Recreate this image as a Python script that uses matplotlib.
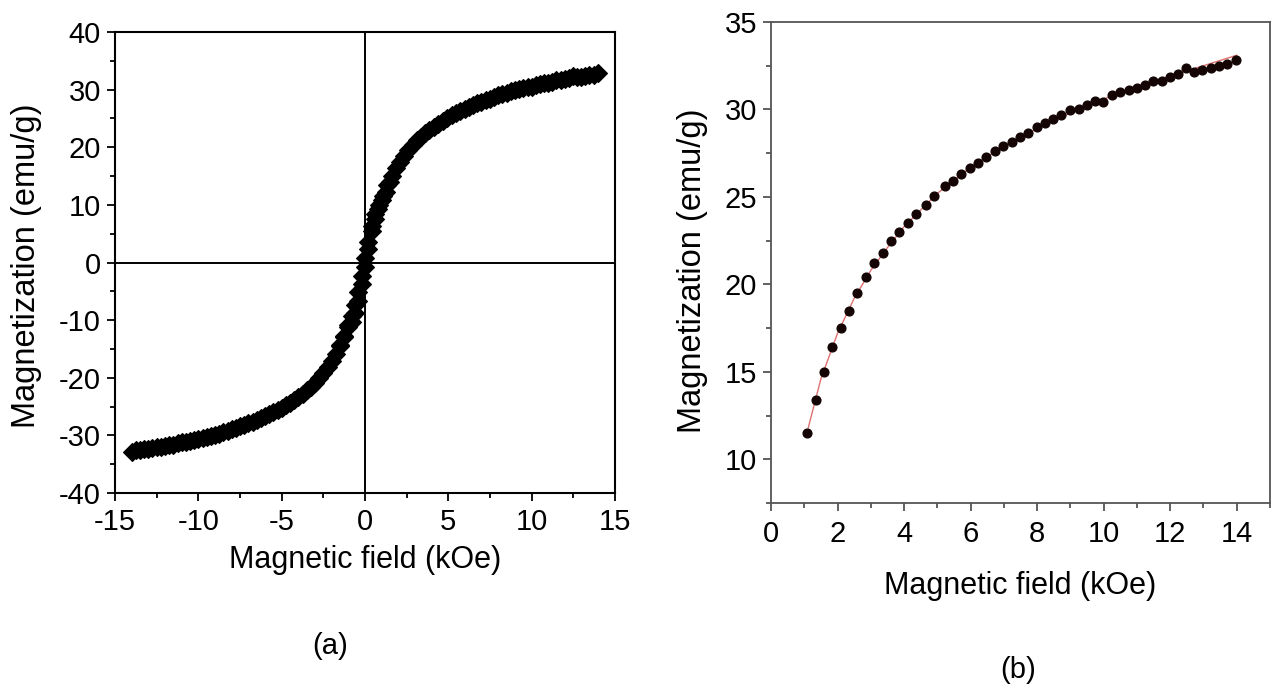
import matplotlib

matplotlib.use("Agg")
import matplotlib.pyplot as plt  # noqa: E402
from matplotlib.ticker import MultipleLocator  # noqa: E402

plt.rcParams["font.family"] = ["Liberation Sans", "DejaVu Sans"]
plt.rcParams["axes.unicode_minus"] = False

# measured M(H) on the positive field side, 1 -> 14 kOe (used in both panels)
h_pts = [1.08, 1.34, 1.59, 1.84, 2.09, 2.35, 2.60, 2.85, 3.10, 3.36, 3.60, 3.86,
         4.12, 4.37, 4.67, 4.91, 5.22, 5.46, 5.72, 5.97, 6.22, 6.47, 6.73, 6.98,
         7.23, 7.49, 7.73, 7.99, 8.23, 8.49, 8.73, 8.99, 9.25, 9.49, 9.75, 9.99,
         10.24, 10.49, 10.75, 11.00, 11.24, 11.48, 11.74, 11.98, 12.23, 12.47,
         12.73, 12.97, 13.22, 13.46, 13.71, 13.97]
m_pts = [11.5, 13.4, 15.0, 16.4, 17.5, 18.5, 19.5, 20.4, 21.2, 21.8, 22.5, 23.0,
         23.5, 24.0, 24.55, 25.05, 25.6, 25.9, 26.3, 26.65, 26.95, 27.3, 27.65,
         27.9, 28.15, 28.45, 28.65, 29.0, 29.25, 29.45, 29.7, 29.95, 30.05, 30.25,
         30.5, 30.45, 30.85, 31.0, 31.1, 31.2, 31.4, 31.6, 31.65, 31.85, 32.0,
         32.35, 32.15, 32.25, 32.35, 32.5, 32.6, 32.85]

# (a) rest of the loop: descending sweep below 1 kOe
h_neg = [0.85, 0.6, 0.4, 0.2, 0.0, -0.2, -0.4, -0.6, -0.8, -1.0, -1.25, -1.5,
         -1.75, -2.0, -2.25, -2.5, -2.75, -3.0, -3.25, -3.5, -3.75, -4.0, -4.25,
         -4.5, -4.75, -5.0, -5.25, -5.5, -5.75, -6.0, -6.25, -6.5, -6.75, -7.0,
         -7.25, -7.5, -7.75, -8.0, -8.25, -8.5, -8.75, -9.0, -9.25, -9.5, -9.75,
         -10.0, -10.25, -10.5, -10.75, -11.0, -11.25, -11.5, -11.75, -12.0,
         -12.25, -12.5, -12.75, -13.0, -13.25, -13.5, -13.75, -14.0]
m_neg = [10.0, 8.4, 6.3, 3.6, 0.8, -2.3, -5.2, -7.4, -9.2, -10.8, -12.7, -14.4,
         -15.9, -17.1, -18.1, -19.1, -20.0, -20.9, -21.6, -22.2, -22.8, -23.3,
         -23.8, -24.3, -24.7, -25.2, -25.6, -26.0, -26.3, -26.7, -27.0, -27.3,
         -27.6, -27.9, -28.2, -28.4, -28.7, -28.9, -29.2, -29.4, -29.7, -29.9,
         -30.1, -30.3, -30.5, -30.6, -30.8, -31.0, -31.1, -31.2, -31.4, -31.6,
         -31.7, -31.8, -32.0, -32.1, -32.2, -32.3, -32.4, -32.5, -32.6, -32.8]

# ascending sweep, only where it separates from the descending one
h_up = [-1.5, -1.25, -1.0, -0.8, -0.6, -0.4, -0.2, 0.0, 0.2, 0.4, 0.6, 0.8, 1.0,
        1.25, 1.5]
m_up = [-14.5, -12.9, -11.2, -10.3, -8.8, -6.6, -3.8, -0.8, 2.4, 5.4, 7.6, 9.3,
        10.8, 12.3, 14.0]

h_fit = [1.12, 1.5, 2.0, 2.5, 3.0, 3.5, 4.0, 5.0, 6.0, 7.0, 8.0, 9.0, 10.0, 11.0,
         12.0, 13.0, 14.0]
m_fit = [11.8, 14.6, 17.2, 19.2, 20.8, 22.1, 23.3, 25.2, 26.7, 27.9, 28.9, 29.8,
         30.6, 31.3, 31.9, 32.5, 33.1]

W, H = 1275, 692
TICK_FS = 21

fig = plt.figure(figsize=(W / 100, H / 100), dpi=100)


def px(x, y):
    # pixel position (from top-left) -> figure fraction
    return x / W, 1 - y / H


def style_ticks(ax, color, pad_x, pad_y):
    ax.tick_params(which="both", direction="out", labelsize=TICK_FS, width=1.3,
                   color=color)
    ax.tick_params(which="major", length=6)
    ax.tick_params(which="minor", length=3.6)
    ax.tick_params(axis="x", which="both", pad=pad_x)
    ax.tick_params(axis="y", which="both", pad=pad_y)


# ---- panel (a)
ax1 = fig.add_axes([115 / W, 1 - 493 / H, 500 / W, 461 / H])
ax1.axhline(0, color="black", lw=1.4, zorder=1)
ax1.axvline(0, color="black", lw=1.4, zorder=1)
for hx, my in [(h_pts, m_pts), (h_neg, m_neg), (h_up, m_up)]:
    ax1.plot(hx, my, "D", color="black", ms=9.5, mew=0.8, zorder=3)
ax1.set_xlim(-15, 15)
ax1.set_ylim(-40, 40)
ax1.xaxis.set_major_locator(MultipleLocator(5))
ax1.xaxis.set_minor_locator(MultipleLocator(2.5))
ax1.yaxis.set_major_locator(MultipleLocator(10))
ax1.yaxis.set_minor_locator(MultipleLocator(5))
style_ticks(ax1, "black", 5, 4)
for s in ax1.spines.values():
    s.set_linewidth(1.5)
ax1.set_xlabel("Magnetic field (kOe)", fontsize=22, va="baseline")
ax1.xaxis.set_label_coords(*px(365, 568), transform=fig.transFigure)
ax1.set_ylabel("Magnetization (emu/g)", fontsize=23.5, va="baseline")
ax1.yaxis.set_label_coords(*px(35, 266), transform=fig.transFigure)

# ---- panel (b)
grey = "#555555"
ax2 = fig.add_axes([771 / W, 1 - 503 / H, 499 / W, 481 / H])
ax2.plot(h_fit, m_fit, "-", color="#e07070", lw=1.0, zorder=2)
ax2.plot(h_pts, m_pts, "o", color="#140404", ms=6.3, zorder=3)
ax2.set_xlim(0, 15)
ax2.set_ylim(7.5, 35)
ax2.xaxis.set_major_locator(MultipleLocator(2))
ax2.xaxis.set_minor_locator(MultipleLocator(1))
ax2.yaxis.set_major_locator(MultipleLocator(5))
ax2.yaxis.set_minor_locator(MultipleLocator(2.5))
style_ticks(ax2, grey, 6.5, 4)
for s in ax2.spines.values():
    s.set_linewidth(1.3)
    s.set_color(grey)
ax2.set_xlabel("Magnetic field (kOe)", fontsize=22, va="baseline")
ax2.xaxis.set_label_coords(*px(1020, 594), transform=fig.transFigure)
ax2.set_ylabel("Magnetization (emu/g)", fontsize=23.5, va="baseline")
ax2.yaxis.set_label_coords(*px(701, 271), transform=fig.transFigure)

fig.text(*px(330, 646), "(a)", fontsize=21, ha="center", va="center")
fig.text(*px(1018, 670), "(b)", fontsize=21, ha="center", va="center")

fig.savefig("out.png", dpi=100)
plt.close(fig)
